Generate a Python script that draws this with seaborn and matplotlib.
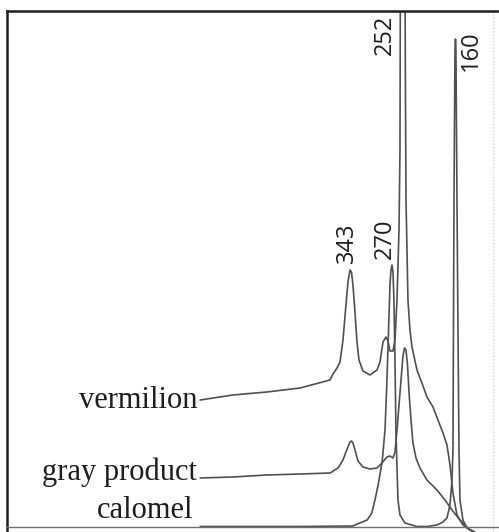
import numpy as np
import pandas as pd
import matplotlib
matplotlib.use("Agg")
import matplotlib.pyplot as plt
import seaborn as sns

# ── Spectra (Raman shift in cm-1, intensity in arb. units) ──
VERMILION_SHIFT = [604, 547, 488, 430, 377.8, 372.6, 365.6, 360.4, 355.2, 350, 346.5,
                   343, 340.4, 337.8, 334.3, 330.8, 327.3, 320.4, 308.2, 295.9, 290.7,
                   285.5, 280.3, 276.8, 273.3, 268.1, 264.6, 261.1, 257.6, 255.9, 255.0,
                   251.3, 247.5, 246.3, 245.4, 242, 238.5, 235, 226.3, 217.6, 208.9,
                   198.4, 189.7, 181, 174, 168.8, 163.6, 156.6, 146.2, 128.7]
VERMILION_INT = [127, 132, 135, 139, 147, 153, 159, 165, 187, 222, 245,
                 257, 255, 242, 215, 185, 167, 156, 152, 157, 165,
                 185, 190, 186, 176, 176, 187, 227, 297, 377, 600,
                 3000, 600, 427, 327, 227, 197, 180, 157, 144, 130,
                 120, 107, 94, 82, 62, 34, 12, 2, -5]

GRAY_SHIFT = [604, 547, 488, 430, 377.8, 363.9, 355.2, 350, 346.5, 343, 340.4, 337.8,
              334.3, 329.1, 320.4, 308.2, 296, 287.3, 278.5, 273.3, 268.1, 264.6,
              261.1, 257.6, 254.1, 250.7, 248.1, 245.4, 242.8, 240.2, 236.7, 233.3,
              228, 221.1, 208.9, 191.5, 177.5, 165.3, 151.4, 134]
GRAY_INT = [49, 50, 52, 53, 54, 59, 67, 75, 80, 85, 86, 84,
            77, 66, 60, 58, 59, 64, 70, 71, 69, 75,
            97, 122, 147, 171, 179, 177, 162, 135, 107, 84,
            69, 59, 47, 37, 27, 17, 7, -3]

CALOMEL_SHIFT = [604, 430, 338, 326, 313, 305, 299.5, 294, 287, 282, 278.6, 275.1,
                 273.3, 271.6, 269.8, 268.1, 266.4, 264.6, 262.9, 259.4, 255.9, 247.2,
                 226.3, 208.9, 191.5, 181, 174, 168.8, 165.3, 163.6, 161.8, 160.1,
                 159.2, 158.4, 156.6, 154.9, 153.1, 151.4, 146.2, 139.2, 125.3]
CALOMEL_INT = [0.5, 0.5, 1, 4, 7, 14, 27, 42, 65, 97, 147, 210,
               242, 257, 262, 255, 227, 167, 94, 27, 12, 4,
               0.5, 0.5, 2, 5, 9, 22, 47, 77, 327, 477,
               488, 477, 327, 200, 77, 27, 7, -1, -5]

SERIES = ["vermilion", "gray product", "calomel"]
PEAKS = ["343", "270", "252", "160"]

LINE = "#505050"
INK = "#1e1e1e"

frames = []
for name, xs, ys in [("vermilion", VERMILION_SHIFT, VERMILION_INT),
                     ("gray product", GRAY_SHIFT, GRAY_INT),
                     ("calomel", CALOMEL_SHIFT, CALOMEL_INT)]:
    frames.append(pd.DataFrame({"shift": xs, "intensity": ys, "sample": name}))
df = pd.concat(frames, ignore_index=True)

sns.set_style("white")
plt.rcParams["font.family"] = ["Liberation Serif", "DejaVu Serif"]

fig = plt.figure(figsize=(4.99, 5.32), dpi=100)
ax = fig.add_axes([7 / 499, 0.0, 492 / 499, 521 / 532])

for name in SERIES:
    sub = df[df["sample"] == name]
    sns.lineplot(data=sub, x="shift", y="intensity", sort=False, estimator=None,
                 color=LINE, linewidth=1.2, ax=ax)

ax.set_xlim(940.5, 83.4)
ax.set_ylim(-5, 516)

# curve names at the left end of each trace
name_pos = {"vermilion": (609, 119), "gray product": (609, 47), "calomel": (616, 9)}
for name in SERIES:
    x, y = name_pos[name]
    ax.text(x, y, name, ha="right", va="baseline", fontsize=22, color=INK,
            family=["Liberation Serif", "DejaVu Serif"])

# peak positions, rotated
peak_pos = {"343": (349.0, 264, "bottom"), "270": (282.0, 268, "bottom"),
            "252": (282.0, 512, "top"), "160": (132.2, 497, "top")}
for lab in PEAKS:
    x, y, va = peak_pos[lab]
    ax.text(x, y, lab, rotation=90, ha="center", va=va, fontsize=17, color=INK,
            family=["Open Sans", "DejaVu Sans"])

ax.axvline(94, color="#d0d0d0", linestyle=":", linewidth=0.9)

ax.set_xticks([])
ax.set_yticks([])
ax.set_xlabel("")
ax.set_ylabel("")
ax.spines["right"].set_visible(False)
ax.spines["top"].set_color("#202020")
ax.spines["top"].set_linewidth(1.8)
ax.spines["left"].set_color("#202020")
ax.spines["left"].set_linewidth(1.8)
ax.spines["bottom"].set_position(("data", 0))
ax.spines["bottom"].set_color("#707070")
ax.spines["bottom"].set_linewidth(1.0)

fig.savefig("out.png", dpi=100, facecolor="white")
plt.close(fig)
